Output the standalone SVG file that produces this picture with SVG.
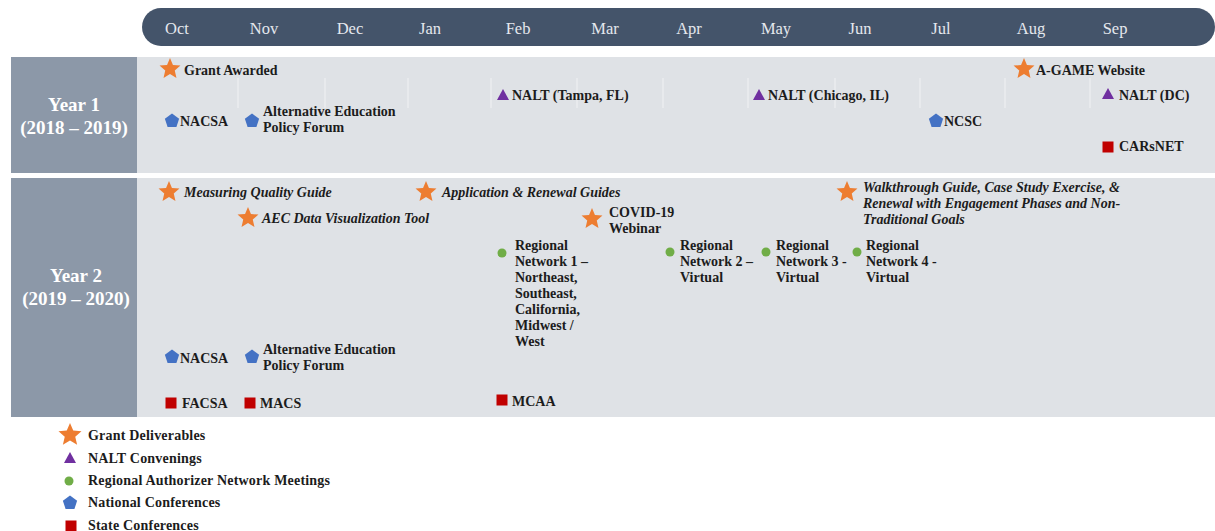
<svg xmlns="http://www.w3.org/2000/svg" xmlns:xlink="http://www.w3.org/1999/xlink" width="1215" height="531" viewBox="0 0 1215 531">
  <defs>
    <path id="star" d="M0,-11 L2.94,-4.05 L10.46,-3.4 L4.76,1.55 L6.47,8.9 L0,5 L-6.47,8.9 L-4.76,1.55 L-10.46,-3.4 L-2.94,-4.05 Z" fill="#ED7D31"/>
    <path id="pent" d="M0,-7.5 L7.13,-2.32 L4.41,6.07 L-4.41,6.07 L-7.13,-2.32 Z" fill="#4472C4"/>
    <path id="tri" d="M0,-6 L6,5 L-6,5 Z" fill="#7030A0"/>
    <circle id="dot" r="4.5" fill="#70AD47"/>
    <rect id="sq" x="-5.5" y="-5.5" width="11" height="11" fill="#C00000"/>
  </defs>
  <style>
    .month { font-family: "Liberation Serif", serif; font-size: 16.5px; fill: #E4E8EE; text-anchor: middle; }
    .year { font-family: "Liberation Serif", serif; font-size: 19px; font-weight: bold; fill: #FFFFFF; text-anchor: middle; }
    .lbl { font-family: "Liberation Serif", serif; font-size: 14px; font-weight: bold; fill: #1C1C1C; }
    .it { font-style: italic; }
    .leg { font-family: "Liberation Serif", serif; font-size: 14px; font-weight: bold; fill: #1C1C1C; letter-spacing: 0.2px; }
    .sep { stroke: #FFFFFF; stroke-opacity: 0.55; stroke-width: 1; }
  </style>

  <rect width="1215" height="531" fill="#FFFFFF"/>

  <!-- month header -->
  <g id="header">
    <path d="M161,8 H1196 A19,19 0 0 1 1215,27 A19,19 0 0 1 1196,46 H161 A19,19 0 0 1 161,8 Z" fill="#44546A"/>
    <text class="month" x="177" y="34">Oct</text>
    <text class="month" x="264" y="34">Nov</text>
    <text class="month" x="350" y="34">Dec</text>
    <text class="month" x="430" y="34">Jan</text>
    <text class="month" x="518" y="34">Feb</text>
    <text class="month" x="605" y="34">Mar</text>
    <text class="month" x="689" y="34">Apr</text>
    <text class="month" x="776" y="34">May</text>
    <text class="month" x="860" y="34">Jun</text>
    <text class="month" x="941" y="34">Jul</text>
    <text class="month" x="1031" y="34">Aug</text>
    <text class="month" x="1115" y="34">Sep</text>
  </g>

  <!-- year bands -->
  <g id="year1-band">
    <rect x="11" y="57" width="126" height="116" fill="#8C98A8"/>
    <rect x="137" y="57" width="1078" height="116" fill="#DFE2E6"/>
    <text class="year" x="74" y="111">Year 1</text>
    <text class="year" x="74" y="134">(2018 – 2019)</text>
    <g class="sep">
      <line x1="238" y1="78" x2="238" y2="108"/>
      <line x1="325" y1="78" x2="325" y2="108"/>
      <line x1="408" y1="78" x2="408" y2="108"/>
      <line x1="491" y1="78" x2="491" y2="108"/>
      <line x1="577" y1="78" x2="577" y2="108"/>
      <line x1="663" y1="78" x2="663" y2="108"/>
      <line x1="748" y1="78" x2="748" y2="108"/>
      <line x1="835" y1="78" x2="835" y2="108"/>
      <line x1="920" y1="78" x2="920" y2="108"/>
      <line x1="1005" y1="78" x2="1005" y2="108"/>
      <line x1="1090" y1="78" x2="1090" y2="108"/>
    </g>
  </g>
  <g id="year2-band">
    <rect x="11" y="178" width="126" height="239" fill="#8C98A8"/>
    <rect x="137" y="178" width="1078" height="239" fill="#DFE2E6"/>
    <text class="year" x="76" y="282">Year 2</text>
    <text class="year" x="76" y="305">(2019 – 2020)</text>
  </g>

  <!-- year 1 events -->
  <g id="grant-awarded"><use href="#star" x="170" y="69"/><text class="lbl" x="184" y="75">Grant Awarded</text></g>
  <g id="nacsa-1"><use href="#pent" x="172" y="121"/><text class="lbl" x="180" y="126">NACSA</text></g>
  <g id="aepf-1"><use href="#pent" x="252" y="121"/><text class="lbl" x="263" y="116">Alternative Education</text><text class="lbl" x="263" y="132">Policy Forum</text></g>
  <g id="nalt-tampa"><use href="#tri" x="503" y="95"/><text class="lbl" x="512" y="100">NALT (Tampa, FL)</text></g>
  <g id="nalt-chicago"><use href="#tri" x="759" y="95"/><text class="lbl" x="768" y="100">NALT (Chicago, IL)</text></g>
  <g id="ncsc"><use href="#pent" x="936" y="121"/><text class="lbl" x="944" y="126">NCSC</text></g>
  <g id="agame"><use href="#star" x="1024" y="69"/><text class="lbl" x="1036" y="75">A-GAME Website</text></g>
  <g id="nalt-dc"><use href="#tri" x="1108" y="94"/><text class="lbl" x="1119" y="100">NALT (DC)</text></g>
  <g id="carsnet"><use href="#sq" x="1108" y="147"/><text class="lbl" x="1119" y="151">CARsNET</text></g>

  <!-- year 2 events -->
  <g id="mqg"><use href="#star" x="169" y="192"/><text class="lbl it" x="184" y="197">Measuring Quality Guide</text></g>
  <g id="aec"><use href="#star" x="248" y="218"/><text class="lbl it" x="262" y="223">AEC Data Visualization Tool</text></g>
  <g id="arg"><use href="#star" x="426" y="192"/><text class="lbl it" x="442" y="197">Application &amp; Renewal Guides</text></g>
  <g id="covid"><use href="#star" x="592" y="219"/><text class="lbl" x="609" y="217">COVID-19</text><text class="lbl" x="609" y="233">Webinar</text></g>
  <g id="walkthrough"><use href="#star" x="847" y="192"/>
    <text class="lbl it" x="863" y="192">Walkthrough Guide, Case Study Exercise, &amp;</text>
    <text class="lbl it" x="863" y="208">Renewal with Engagement Phases and Non-</text>
    <text class="lbl it" x="863" y="224">Traditional Goals</text>
  </g>
  <g id="rn1"><use href="#dot" x="502" y="253"/>
    <text class="lbl" x="515" y="250">Regional</text>
    <text class="lbl" x="515" y="266">Network 1 –</text>
    <text class="lbl" x="515" y="282">Northeast,</text>
    <text class="lbl" x="515" y="298">Southeast,</text>
    <text class="lbl" x="515" y="314">California,</text>
    <text class="lbl" x="515" y="330">Midwest /</text>
    <text class="lbl" x="515" y="346">West</text>
  </g>
  <g id="rn2"><use href="#dot" x="670" y="252"/>
    <text class="lbl" x="680" y="250">Regional</text>
    <text class="lbl" x="680" y="266">Network 2 –</text>
    <text class="lbl" x="680" y="282">Virtual</text>
  </g>
  <g id="rn3"><use href="#dot" x="766" y="252"/>
    <text class="lbl" x="776" y="250">Regional</text>
    <text class="lbl" x="776" y="266">Network 3 -</text>
    <text class="lbl" x="776" y="282">Virtual</text>
  </g>
  <g id="rn4"><use href="#dot" x="857" y="252"/>
    <text class="lbl" x="866" y="250">Regional</text>
    <text class="lbl" x="866" y="266">Network 4 -</text>
    <text class="lbl" x="866" y="282">Virtual</text>
  </g>
  <g id="nacsa-2"><use href="#pent" x="172" y="357"/><text class="lbl" x="180" y="363">NACSA</text></g>
  <g id="aepf-2"><use href="#pent" x="252" y="357"/><text class="lbl" x="263" y="354">Alternative Education</text><text class="lbl" x="263" y="370">Policy Forum</text></g>
  <g id="facsa"><use href="#sq" x="171" y="403"/><text class="lbl" x="182" y="408">FACSA</text></g>
  <g id="macs"><use href="#sq" x="250" y="403"/><text class="lbl" x="260" y="408">MACS</text></g>
  <g id="mcaa"><use href="#sq" x="502" y="400"/><text class="lbl" x="512" y="406">MCAA</text></g>

  <!-- legend -->
  <g id="legend">
    <use href="#star" x="70" y="435" transform="translate(70,435) scale(1.1) translate(-70,-435)"/>
    <text class="leg" x="88" y="440">Grant Deliverables</text>
    <use href="#tri" x="70" y="458"/>
    <text class="leg" x="88" y="463">NALT Convenings</text>
    <use href="#dot" x="69" y="481"/>
    <text class="leg" x="88" y="485">Regional Authorizer Network Meetings</text>
    <use href="#pent" x="70" y="503"/>
    <text class="leg" x="88" y="507">National Conferences</text>
    <use href="#sq" x="71" y="526"/>
    <text class="leg" x="88" y="530">State Conferences</text>
  </g>
</svg>
